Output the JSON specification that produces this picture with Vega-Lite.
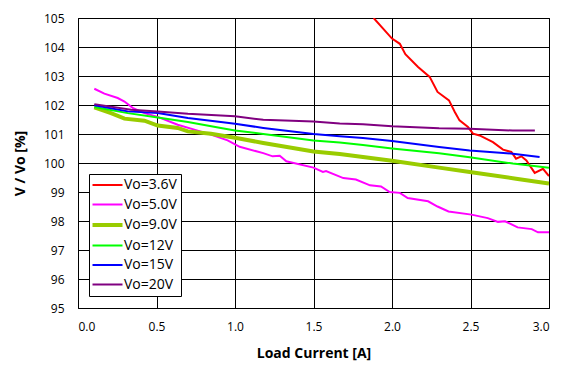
{
  "$schema": "https://vega.github.io/schema/vega-lite/v6.json",
  "width": 471,
  "height": 290,
  "autosize": {"type": "none"},
  "padding": {"left": 78, "top": 18, "right": 19, "bottom": 72},
  "background": "white",
  "config": {
    "font": "Open Sans",
    "view": {"stroke": "black", "strokeWidth": 1},
    "axis": {
      "grid": true, "gridColor": "black", "gridOpacity": 1, "gridWidth": 1,
      "domain": false, "ticks": false,
      "labelFont": "Open Sans", "labelFontSize": 12, "labelColor": "#000",
      "titleFont": "Open Sans", "titleFontSize": 14, "titleFontWeight": "bold", "titleColor": "#000"
    }
  },
  "data": {
    "values": [
      {"s": "Vo=3.6V", "x": 1.883, "y": 105.0},
      {"s": "Vo=3.6V", "x": 2.0, "y": 104.29},
      {"s": "Vo=3.6V", "x": 2.05, "y": 104.11},
      {"s": "Vo=3.6V", "x": 2.085, "y": 103.75},
      {"s": "Vo=3.6V", "x": 2.166, "y": 103.31},
      {"s": "Vo=3.6V", "x": 2.24, "y": 102.97},
      {"s": "Vo=3.6V", "x": 2.29, "y": 102.45},
      {"s": "Vo=3.6V", "x": 2.363, "y": 102.16},
      {"s": "Vo=3.6V", "x": 2.4, "y": 101.76},
      {"s": "Vo=3.6V", "x": 2.43, "y": 101.47},
      {"s": "Vo=3.6V", "x": 2.484, "y": 101.24},
      {"s": "Vo=3.6V", "x": 2.516, "y": 101.01},
      {"s": "Vo=3.6V", "x": 2.558, "y": 100.95},
      {"s": "Vo=3.6V", "x": 2.643, "y": 100.72},
      {"s": "Vo=3.6V", "x": 2.707, "y": 100.46},
      {"s": "Vo=3.6V", "x": 2.76, "y": 100.38},
      {"s": "Vo=3.6V", "x": 2.79, "y": 100.15},
      {"s": "Vo=3.6V", "x": 2.824, "y": 100.23},
      {"s": "Vo=3.6V", "x": 2.856, "y": 100.09},
      {"s": "Vo=3.6V", "x": 2.909, "y": 99.66},
      {"s": "Vo=3.6V", "x": 2.962, "y": 99.8},
      {"s": "Vo=3.6V", "x": 3.0, "y": 99.55},

      {"s": "Vo=5.0V", "x": 0.104, "y": 102.56},
      {"s": "Vo=5.0V", "x": 0.168, "y": 102.39},
      {"s": "Vo=5.0V", "x": 0.253, "y": 102.24},
      {"s": "Vo=5.0V", "x": 0.296, "y": 102.12},
      {"s": "Vo=5.0V", "x": 0.348, "y": 101.9},
      {"s": "Vo=5.0V", "x": 0.423, "y": 101.72},
      {"s": "Vo=5.0V", "x": 0.508, "y": 101.59},
      {"s": "Vo=5.0V", "x": 0.635, "y": 101.32},
      {"s": "Vo=5.0V", "x": 0.741, "y": 101.15},
      {"s": "Vo=5.0V", "x": 0.847, "y": 100.98},
      {"s": "Vo=5.0V", "x": 0.953, "y": 100.78},
      {"s": "Vo=5.0V", "x": 1.03, "y": 100.56},
      {"s": "Vo=5.0V", "x": 1.18, "y": 100.34},
      {"s": "Vo=5.0V", "x": 1.24, "y": 100.23},
      {"s": "Vo=5.0V", "x": 1.285, "y": 100.25},
      {"s": "Vo=5.0V", "x": 1.327, "y": 100.06},
      {"s": "Vo=5.0V", "x": 1.5, "y": 99.84},
      {"s": "Vo=5.0V", "x": 1.56, "y": 99.69},
      {"s": "Vo=5.0V", "x": 1.58, "y": 99.72},
      {"s": "Vo=5.0V", "x": 1.69, "y": 99.48},
      {"s": "Vo=5.0V", "x": 1.77, "y": 99.43},
      {"s": "Vo=5.0V", "x": 1.86, "y": 99.23},
      {"s": "Vo=5.0V", "x": 1.93, "y": 99.19},
      {"s": "Vo=5.0V", "x": 1.985, "y": 99.0},
      {"s": "Vo=5.0V", "x": 2.05, "y": 98.97},
      {"s": "Vo=5.0V", "x": 2.1, "y": 98.79},
      {"s": "Vo=5.0V", "x": 2.23, "y": 98.68},
      {"s": "Vo=5.0V", "x": 2.29, "y": 98.5},
      {"s": "Vo=5.0V", "x": 2.36, "y": 98.33},
      {"s": "Vo=5.0V", "x": 2.506, "y": 98.22},
      {"s": "Vo=5.0V", "x": 2.61, "y": 98.1},
      {"s": "Vo=5.0V", "x": 2.675, "y": 97.97},
      {"s": "Vo=5.0V", "x": 2.72, "y": 97.99},
      {"s": "Vo=5.0V", "x": 2.8, "y": 97.78},
      {"s": "Vo=5.0V", "x": 2.89, "y": 97.72},
      {"s": "Vo=5.0V", "x": 2.93, "y": 97.61},
      {"s": "Vo=5.0V", "x": 3.0, "y": 97.61},

      {"s": "Vo=9.0V", "x": 0.104, "y": 101.92},
      {"s": "Vo=9.0V", "x": 0.21, "y": 101.72},
      {"s": "Vo=9.0V", "x": 0.296, "y": 101.53},
      {"s": "Vo=9.0V", "x": 0.423, "y": 101.46},
      {"s": "Vo=9.0V", "x": 0.508, "y": 101.29},
      {"s": "Vo=9.0V", "x": 0.635, "y": 101.21},
      {"s": "Vo=9.0V", "x": 0.7, "y": 101.09},
      {"s": "Vo=9.0V", "x": 0.847, "y": 101.01},
      {"s": "Vo=9.0V", "x": 1.0, "y": 100.87},
      {"s": "Vo=9.0V", "x": 1.18, "y": 100.69},
      {"s": "Vo=9.0V", "x": 1.5, "y": 100.4},
      {"s": "Vo=9.0V", "x": 1.667, "y": 100.31},
      {"s": "Vo=9.0V", "x": 1.815, "y": 100.21},
      {"s": "Vo=9.0V", "x": 2.0, "y": 100.08},
      {"s": "Vo=9.0V", "x": 2.3, "y": 99.84},
      {"s": "Vo=9.0V", "x": 2.495, "y": 99.69},
      {"s": "Vo=9.0V", "x": 2.79, "y": 99.46},
      {"s": "Vo=9.0V", "x": 3.0, "y": 99.29},

      {"s": "Vo=12V", "x": 0.104, "y": 101.93},
      {"s": "Vo=12V", "x": 0.317, "y": 101.72},
      {"s": "Vo=12V", "x": 0.508, "y": 101.57},
      {"s": "Vo=12V", "x": 0.7, "y": 101.41},
      {"s": "Vo=12V", "x": 0.91, "y": 101.21},
      {"s": "Vo=12V", "x": 1.0, "y": 101.12},
      {"s": "Vo=12V", "x": 1.18, "y": 101.0},
      {"s": "Vo=12V", "x": 1.5, "y": 100.78},
      {"s": "Vo=12V", "x": 1.667, "y": 100.71},
      {"s": "Vo=12V", "x": 1.815, "y": 100.62},
      {"s": "Vo=12V", "x": 2.0, "y": 100.5},
      {"s": "Vo=12V", "x": 2.3, "y": 100.34},
      {"s": "Vo=12V", "x": 2.495, "y": 100.2},
      {"s": "Vo=12V", "x": 2.77, "y": 99.98},
      {"s": "Vo=12V", "x": 3.0, "y": 99.84},

      {"s": "Vo=15V", "x": 0.104, "y": 101.99},
      {"s": "Vo=15V", "x": 0.317, "y": 101.78},
      {"s": "Vo=15V", "x": 0.508, "y": 101.72},
      {"s": "Vo=15V", "x": 0.7, "y": 101.55},
      {"s": "Vo=15V", "x": 0.91, "y": 101.41},
      {"s": "Vo=15V", "x": 1.0, "y": 101.35},
      {"s": "Vo=15V", "x": 1.18, "y": 101.21},
      {"s": "Vo=15V", "x": 1.5, "y": 101.0},
      {"s": "Vo=15V", "x": 1.667, "y": 100.92},
      {"s": "Vo=15V", "x": 1.815, "y": 100.86},
      {"s": "Vo=15V", "x": 2.0, "y": 100.76},
      {"s": "Vo=15V", "x": 2.3, "y": 100.55},
      {"s": "Vo=15V", "x": 2.495, "y": 100.43},
      {"s": "Vo=15V", "x": 2.77, "y": 100.32},
      {"s": "Vo=15V", "x": 2.94, "y": 100.21},

      {"s": "Vo=20V", "x": 0.104, "y": 102.03},
      {"s": "Vo=20V", "x": 0.338, "y": 101.84},
      {"s": "Vo=20V", "x": 0.508, "y": 101.78},
      {"s": "Vo=20V", "x": 0.7, "y": 101.7},
      {"s": "Vo=20V", "x": 0.91, "y": 101.64},
      {"s": "Vo=20V", "x": 1.0, "y": 101.61},
      {"s": "Vo=20V", "x": 1.18, "y": 101.49},
      {"s": "Vo=20V", "x": 1.5, "y": 101.43},
      {"s": "Vo=20V", "x": 1.667, "y": 101.36},
      {"s": "Vo=20V", "x": 1.815, "y": 101.34},
      {"s": "Vo=20V", "x": 2.0, "y": 101.27},
      {"s": "Vo=20V", "x": 2.3, "y": 101.2},
      {"s": "Vo=20V", "x": 2.495, "y": 101.18},
      {"s": "Vo=20V", "x": 2.77, "y": 101.12},
      {"s": "Vo=20V", "x": 2.91, "y": 101.12}
    ]
  },
  "mark": {"type": "line", "clip": true, "interpolate": "linear"},
  "encoding": {
    "x": {
      "field": "x", "type": "quantitative",
      "scale": {"domain": [0, 3], "nice": false},
      "axis": {"values": [0, 0.5, 1, 1.5, 2, 2.5, 3], "format": ".1f", "labelPadding": 13, "title": "Load Current [A]", "titlePadding": 14}
    },
    "y": {
      "field": "y", "type": "quantitative",
      "scale": {"domain": [95, 105], "nice": false, "zero": false},
      "axis": {"values": [95, 96, 97, 98, 99, 100, 101, 102, 103, 104, 105], "labelPadding": 14, "title": "V / Vo [%]", "titleX": -51, "titleY": 145, "titleAngle": -90, "titleBaseline": "bottom", "titleAlign": "center"}
    },
    "color": {
      "field": "s", "type": "nominal",
      "scale": {
        "domain": ["Vo=3.6V", "Vo=5.0V", "Vo=9.0V", "Vo=12V", "Vo=15V", "Vo=20V"],
        "range": ["#ff0000", "#ff00ff", "#99cc00", "#00ff00", "#0000ff", "#800080"]
      },
      "legend": {
        "title": null, "orient": "none", "legendX": 11, "legendY": 156,
        "strokeColor": "black", "fillColor": "white", "padding": 4,
        "symbolType": "M-1,0H3", "symbolSize": 225, "rowPadding": 5.5, "symbolStrokeWidth": 2,
        "labelOffset": 17, "labelFont": "Open Sans", "labelFontSize": 14, "labelColor": "#000",
        "encode": {"symbols": {"update": {"strokeWidth": {"signal": "datum.value === 'Vo=9.0V' ? 4 : 2"}}}}
      }
    },
    "strokeWidth": {
      "condition": {"test": "datum.s === 'Vo=9.0V'", "value": 4},
      "value": 2
    }
  }
}
